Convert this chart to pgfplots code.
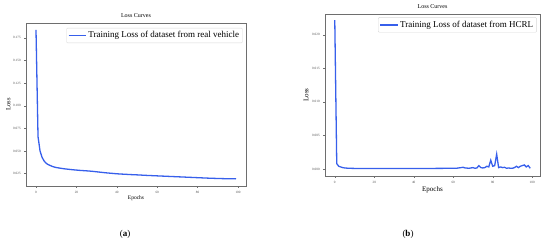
\documentclass[border=0pt]{standalone}
\usepackage{pgfplots}
\pgfplotsset{compat=1.18}
\usepackage{fontspec}
\setmainfont{Liberation Serif}
\definecolor{lc}{RGB}{55,95,235}
\definecolor{ax}{RGB}{110,110,110}
\begin{document}
\begin{tikzpicture}
\path[use as bounding box] (0pt,0pt) rectangle (550pt,251pt);
\pgfplotsset{
  every axis/.append style={
    scale only axis,
    axis line style={ax,line width=0.7pt},
    tick align=outside, tick pos=left,
    major tick length=1.8pt,
    every tick/.style={ax,line width=0.4pt},
    tick label style={font=\fontsize{3.3}{4}\selectfont, text=black!70},
    /pgf/number format/assume math mode=true,
    /pgf/number format/fixed, /pgf/number format/fixed zerofill,
    /pgf/number format/precision=3,
    scaled y ticks=false,
    xtick={0,20,40,60,80,100},
    xticklabel style={/pgf/number format/precision=0,/pgf/number format/fixed zerofill=false},
    xmin=-4.95, xmax=103.95,
    legend cell align=left,
    legend style={draw=black!15, rounded corners=1pt, inner sep=1.5pt},
  }
}
\begin{axis}[at={(26pt,65pt)}, anchor=south west, width=220pt, height=163pt,
  ymin=0.0113, ymax=0.1915,
  ytick={0.025,0.05,0.075,0.1,0.125,0.15,0.175},
  title={\fontsize{6}{7}\selectfont Loss Curves}, title style={yshift=-4pt},
  xlabel={\fontsize{5.5}{6}\selectfont Epochs}, xlabel style={yshift=5pt},
  ylabel={\fontsize{6.5}{7}\selectfont Loss}, ylabel style={yshift=-4pt},
  legend style={font=\fontsize{9}{10}\selectfont, at={(0.985,0.97)}, anchor=north east},
]
\addplot[lc, line width=1.3pt] coordinates {
(0,0.184) (1,0.066) (2,0.050) (3,0.043) (4,0.039) (5,0.0365) (6,0.035) (7,0.034) (8,0.033) (9,0.0323)
(10,0.0317) (12,0.031) (14,0.0303) (16,0.0298) (18,0.0293) (20,0.0289) (22,0.0285) (24,0.0282)
(26,0.0279) (28,0.0275) (30,0.0270) (32,0.0265) (34,0.0260) (36,0.0256) (38,0.0252) (40,0.0248)
(42,0.0245) (44,0.0243) (46,0.0240) (48,0.0238) (50,0.0236) (55,0.0230) (60,0.0225) (65,0.0220)
(70,0.0215) (75,0.0210) (80,0.0205) (85,0.0200) (90,0.0196) (95,0.0193) (99,0.0192)
};
\addlegendentry{Training Loss of dataset from real vehicle}
\end{axis}
\begin{axis}[at={(325pt,75pt)}, anchor=south west, width=215pt, height=162pt,
  ymin=-0.00105, ymax=0.0231,
  ytick={0,0.005,0.01,0.015,0.02},
  title={\fontsize{6}{7}\selectfont Loss Curves}, title style={yshift=-4pt},
  xlabel={\fontsize{7}{8}\selectfont Epochs}, xlabel style={yshift=4pt},
  ylabel={\fontsize{7}{8}\selectfont Loss}, ylabel style={yshift=-3pt},
  legend style={font=\fontsize{9}{10}\selectfont, at={(0.985,0.98)}, anchor=north east},
]
\addplot[lc, line width=1.3pt] coordinates {
(0,0.0222) (1,0.0008) (2,0.0004) (3,0.0003) (4,0.0002) (5,0.00015) (7,0.0001) (10,0.00008)
(20,0.00007) (30,0.00007) (40,0.00008) (50,0.00008) (60,0.0001) (62,0.00012) (64,0.0002)
(65,0.00025) (66,0.00015) (68,0.0001) (70,0.0002) (71,0.0001) (72,0.00015) (73,0.0005)
(74,0.0002) (75,0.00015) (76,0.0002) (77,0.0004) (78,0.0003) (79,0.0013) (80,0.0004)
(81,0.0005) (82,0.0022) (83,0.0002) (84,0.0003) (85,0.0002) (86,0.00025) (87,0.0001)
(88,0.00015) (89,0.0001) (90,0.0001) (91,0.0002) (92,0.0004) (93,0.0002) (94,0.0004)
(95,0.0005) (96,0.0006) (97,0.0003) (98,0.0005) (99,0.0001)
};
\addlegendentry{Training Loss of dataset from HCRL}
\end{axis}
\node[font=\fontsize{9}{10}\selectfont] at (125pt,17pt) {(\textbf{a})};
\node[font=\fontsize{9}{10}\selectfont] at (408pt,17pt) {(\textbf{b})};
\end{tikzpicture}
\end{document}
